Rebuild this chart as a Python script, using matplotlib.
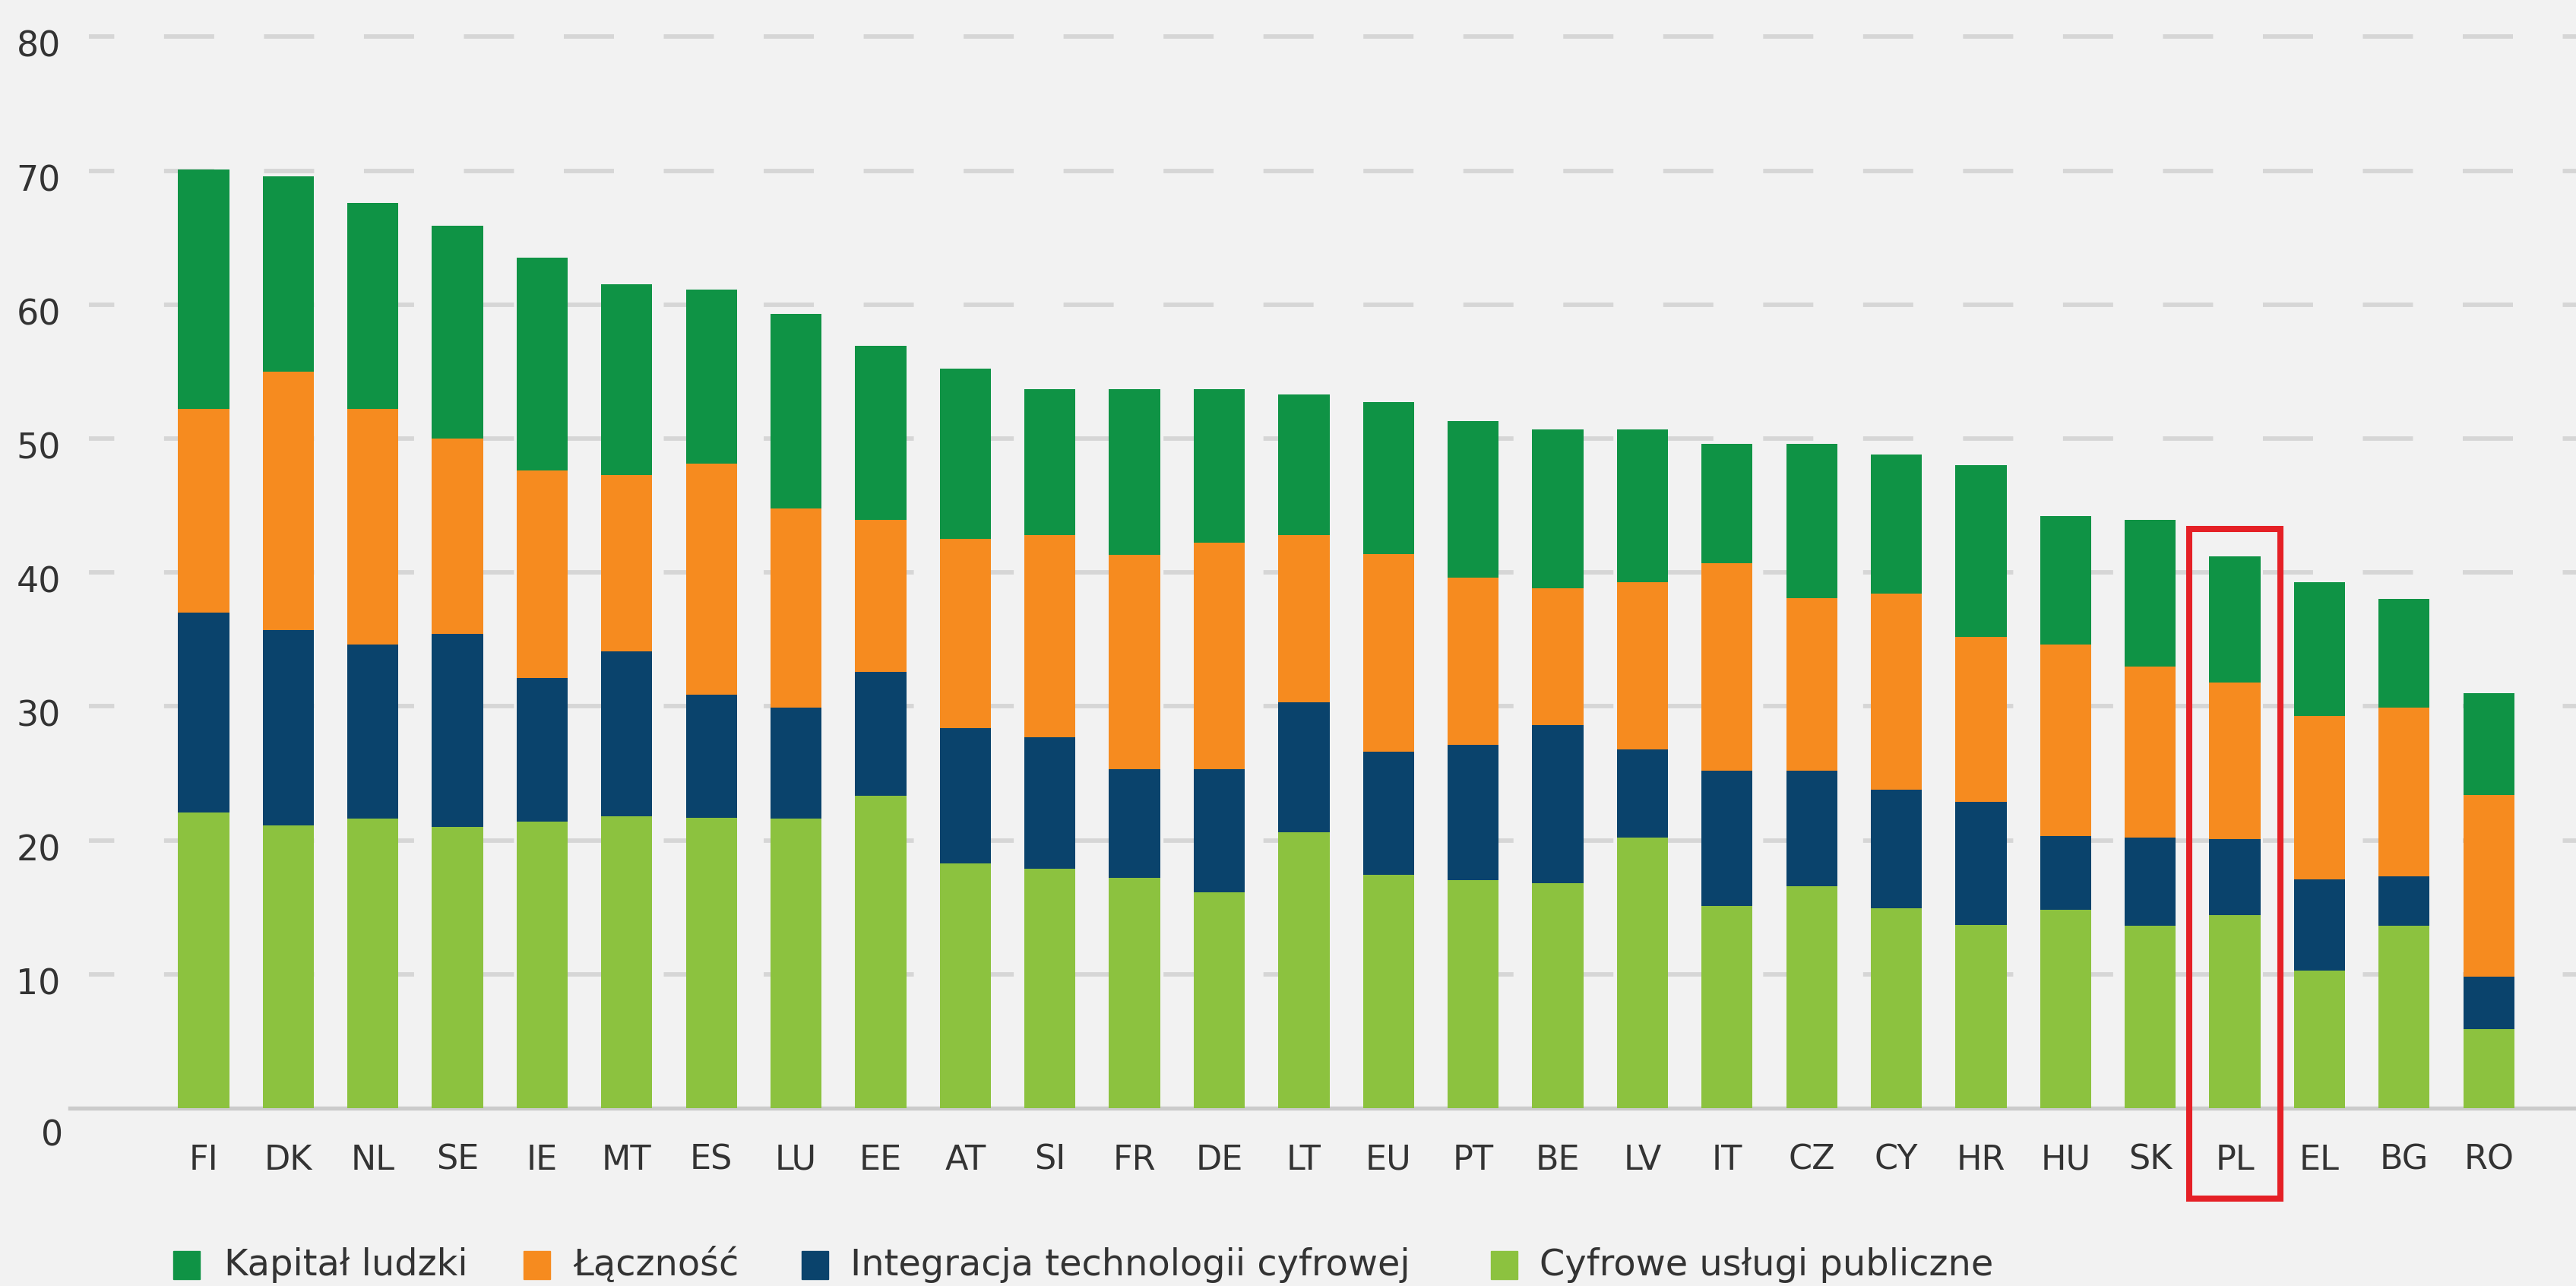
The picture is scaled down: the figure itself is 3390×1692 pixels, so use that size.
import matplotlib.pyplot as plt
import numpy as np
from matplotlib.patches import Rectangle

plt.rcParams['font.family'] = ['DejaVu Sans']
plt.rcParams['lines.scale_dashes'] = False

countries = ['FI', 'DK', 'NL', 'SE', 'IE', 'MT', 'ES', 'LU', 'EE', 'AT', 'SI', 'FR', 'DE', 'LT',
             'EU', 'PT', 'BE', 'LV', 'IT', 'CZ', 'CY', 'HR', 'HU', 'SK', 'PL', 'EL', 'BG', 'RO']
# segments from the bottom up
uslugi = [22.1, 21.1, 21.6, 21.0, 21.4, 21.8, 21.7, 21.6, 23.3, 18.3, 17.9, 17.2, 16.1, 20.6,
          17.4, 17.0, 16.8, 20.2, 15.1, 16.6, 14.9, 13.7, 14.8, 13.6, 14.4, 10.3, 13.6, 5.9]
integracja = [14.9, 14.6, 13.0, 14.4, 10.7, 12.3, 9.2, 8.3, 9.3, 10.1, 9.8, 8.1, 9.2, 9.7,
              9.2, 10.1, 11.8, 6.6, 10.1, 8.6, 8.9, 9.2, 5.5, 6.6, 5.7, 6.8, 3.7, 3.9]
lacznosc = [15.2, 19.3, 17.6, 14.6, 15.5, 13.2, 17.2, 14.9, 11.3, 14.1, 15.1, 16.0, 16.9, 12.5,
            14.8, 12.5, 10.2, 12.5, 15.5, 12.9, 14.6, 12.3, 14.3, 12.8, 11.7, 12.2, 12.6, 13.6]
kapital = [17.9, 14.6, 15.4, 15.9, 15.9, 14.2, 13.0, 14.5, 13.0, 12.7, 10.9, 12.4, 11.5, 10.5,
           11.3, 11.7, 11.9, 11.4, 8.9, 11.5, 10.4, 12.8, 9.6, 10.9, 9.4, 10.0, 8.1, 7.6]
legend_labels = ['Kapitał ludzki', 'Łączność', 'Integracja technologii cyfrowej', 'Cyfrowe usługi publiczne']
yticks = [0, 10, 20, 30, 40, 50, 60, 70, 80]
highlight = 'PL'

c_kap = '#0f9345'
c_lacz = '#f68b1f'
c_int = '#0a436c'
c_usl = '#8cc23f'
bg = '#f2f2f2'
txt = '#333333'

W, H = 3391, 1692
fig = plt.figure(figsize=(W / 100, H / 100), dpi=100, facecolor=bg)
ax = fig.add_axes([92 / W, 1 - 1458 / H, 1 - 92 / W, 81 * 17.62 / H])
ax.axis('off')
ax.set_xlim(-1.58, 28.04)
ax.set_ylim(0, 81)

x = np.arange(len(countries))

# dashed grid
for v in yticks[1:]:
    ax.plot([-1.356, 28.04], [v, v], color='#d6d6d6', lw=4.2,
            ls=(23.5, (47.5, 47.2)), zorder=0, dash_capstyle='butt')
ax.axhline(0, color='#cbcbcb', lw=3.9, zorder=1, clip_on=False)

bottom = np.zeros(len(countries))
for vals, col in [(uslugi, c_usl), (integracja, c_int), (lacznosc, c_lacz), (kapital, c_kap)]:
    ax.bar(x, vals, 0.604, bottom=bottom, color=col, zorder=2)
    bottom += np.array(vals)

for v in yticks:
    if v == 0:
        ax.text(-1.66, -2.1, '0', ha='right', va='center', fontsize=33, color=txt, clip_on=False)
    else:
        ax.text(-1.69, v - 0.8, str(v), ha='right', va='center', fontsize=33, color=txt, clip_on=False)

for i, c in enumerate(countries):
    ax.text(i, -3.86, c, ha='center', va='center', fontsize=32, color=txt, clip_on=False)

# highlight box
hi = countries.index(highlight)
ax.add_patch(Rectangle((hi - 0.54, -6.75), 1.08, 50.0, fill=False, ec='#e52026', lw=5.8,
                       clip_on=False, zorder=5))

# legend
legend_pos = [(228, 295), (689, 754), (1055, 1119), (1962, 2026)]
legend_cols = [c_kap, c_lacz, c_int, c_usl]
for (sx, tx), lab, col in zip(legend_pos, legend_labels, legend_cols):
    fig.add_artist(Rectangle((sx / W, 1 - 1683 / H), 35 / W, 37 / H, color=col,
                             transform=fig.transFigure))
    fig.text(tx / W, 1 - 1664 / H, lab, ha='left', va='center', fontsize=34.5, color=txt)

fig.savefig('out.png', dpi=100, facecolor=bg)
